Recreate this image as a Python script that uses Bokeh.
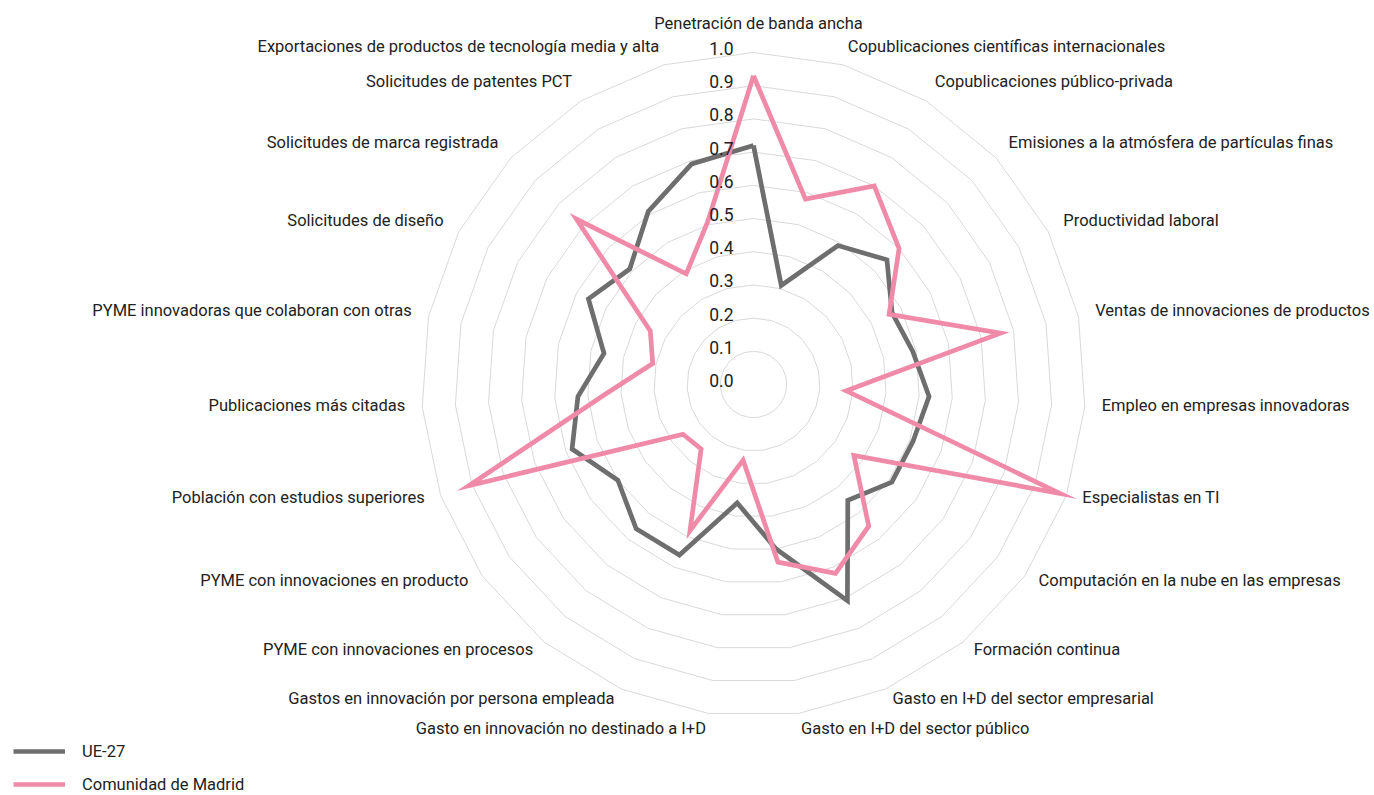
import numpy as np
from bokeh.plotting import figure
from bokeh.models import Range1d, Legend, LegendItem
from bokeh.core.properties import value
from bokeh.embed import file_html
from bokeh.resources import INLINE

categories = [
    "Penetración de banda ancha",
    "Copublicaciones científicas internacionales",
    "Copublicaciones público-privada",
    "Emisiones a la atmósfera de partículas finas",
    "Productividad laboral",
    "Ventas de innovaciones de productos",
    "Empleo en empresas innovadoras",
    "Especialistas en TI",
    "Computación en la nube en las empresas",
    "Formación continua",
    "Gasto en I+D del sector empresarial",
    "Gasto en I+D del sector público",
    "Gasto en innovación no destinado a I+D",
    "Gastos en innovación por persona empleada",
    "PYME con innovaciones en procesos",
    "PYME con innovaciones en producto",
    "Población con estudios superiores",
    "Publicaciones más citadas",
    "PYME innovadoras que colaboran con otras",
    "Solicitudes de diseño",
    "Solicitudes de marca registrada",
    "Solicitudes de patentes PCT",
    "Exportaciones de productos de tecnología media y alta",
]

ue27 = [0.72, 0.31, 0.49, 0.55, 0.47, 0.49, 0.53, 0.51, 0.51, 0.45, 0.71, 0.50,
        0.36, 0.56, 0.56, 0.50, 0.58, 0.53, 0.46, 0.56, 0.51, 0.61, 0.69]
madrid = [0.93, 0.58, 0.70, 0.60, 0.46, 0.76, 0.28, 0.98, 0.37, 0.55, 0.62, 0.54,
          0.23, 0.48, 0.25, 0.26, 0.91, 0.45, 0.31, 0.35, 0.73, 0.39, 0.51]

series_names = ["UE-27", "Comunidad de Madrid"]
tick_values = [0.0, 0.1, 0.2, 0.3, 0.4, 0.5, 0.6, 0.7, 0.8, 0.9, 1.0]
tick_labels = ["0.0", "0.1", "0.2", "0.3", "0.4", "0.5", "0.6", "0.7", "0.8", "0.9", "1.0"]

# ---- layout / style ----
W, H = 1374, 795
S = 332.0            # pixels per unit radius
cx, cy = 753.0, 384.0
FONT_NAME = "Roboto"
FONT = value(FONT_NAME)
TXT = "#222222"
GREY = "#6e6e6e"
PINK = "#f08aa9"
GRID = "#d9d9d9"
FS = "16.5px"
TICK_FS = "17.5px"

n = len(categories)
theta = np.arange(n) * 2 * np.pi / n
sn, cs = np.sin(theta), np.cos(theta)

p = figure(width=W, height=H, output_backend="svg", toolbar_location=None,
           x_range=Range1d(-cx / S, (W - cx) / S),
           y_range=Range1d(-(H - cy) / S, cy / S),
           x_axis_location=None, y_axis_location=None, min_border=0)
p.grid.visible = False
p.outline_line_color = None
p.background_fill_color = "white"

# grid rings
rings = [v for v in tick_values if v > 0]
xs = [list(np.append(sn, sn[0]) * r) for r in rings]
ys = [list(np.append(cs, cs[0]) * r) for r in rings]
p.multi_line(xs, ys, line_color=GRID, line_width=1)

# series
def closed(vals):
    v = np.array(vals)
    x = v * sn
    y = v * cs
    return list(np.append(x, x[0])), list(np.append(y, y[0]))

ux, uy = closed(ue27)
mx, my = closed(madrid)
r_ue = p.line(ux, uy, line_color=GREY, line_width=4.7, line_join="miter")
r_md = p.line(mx, my, line_color=PINK, line_width=4.7, line_join="miter")

# tick labels
p.text(x=[-20 / S] * len(tick_values), y=[v + 4 / S for v in tick_values], text=tick_labels,
       text_align="right", text_baseline="middle", text_font=FONT,
       text_font_size=TICK_FS, text_color=TXT)

# category labels
lx = {"left": [], "right": [], "center": []}
ly = {"left": [], "right": [], "center": []}
lt = {"left": [], "right": [], "center": []}
for i, c in enumerate(categories):
    if abs(sn[i]) < 0.01:
        key = "center"
        x = 5 / S
        y = 1.0 + 29 / S
    else:
        key = "left" if sn[i] > 0 else "right"
        x = sn[i] * (1.0 + 17 / S)
        extra = (12 + 8 * (cs[i] > 0)) * cs[i] + 2
        if cs[i] > 0.95:
            extra -= 3
        if cs[i] < -0.95:
            extra -= 5
        y = cs[i] + extra / S
    lx[key].append(x)
    ly[key].append(y)
    lt[key].append(c)
for key in ["left", "right", "center"]:
    p.text(x=lx[key], y=ly[key], text=lt[key], text_align=key, text_baseline="middle",
           text_font=FONT, text_font_size=FS, text_color=TXT)

legend = Legend(items=[LegendItem(label=series_names[0], renderers=[r_ue]),
                       LegendItem(label=series_names[1], renderers=[r_md])],
                location=(13, 0), orientation="vertical",
                padding=0, margin=0, spacing=11,
                glyph_width=52, glyph_height=22, label_height=22,
                label_standoff=17, label_text_font=FONT_NAME, label_text_font_size=FS,
                label_text_color=TXT, border_line_color=None,
                background_fill_alpha=0)
p.add_layout(legend)

open("out.html", "w").write(file_html(p, INLINE))
